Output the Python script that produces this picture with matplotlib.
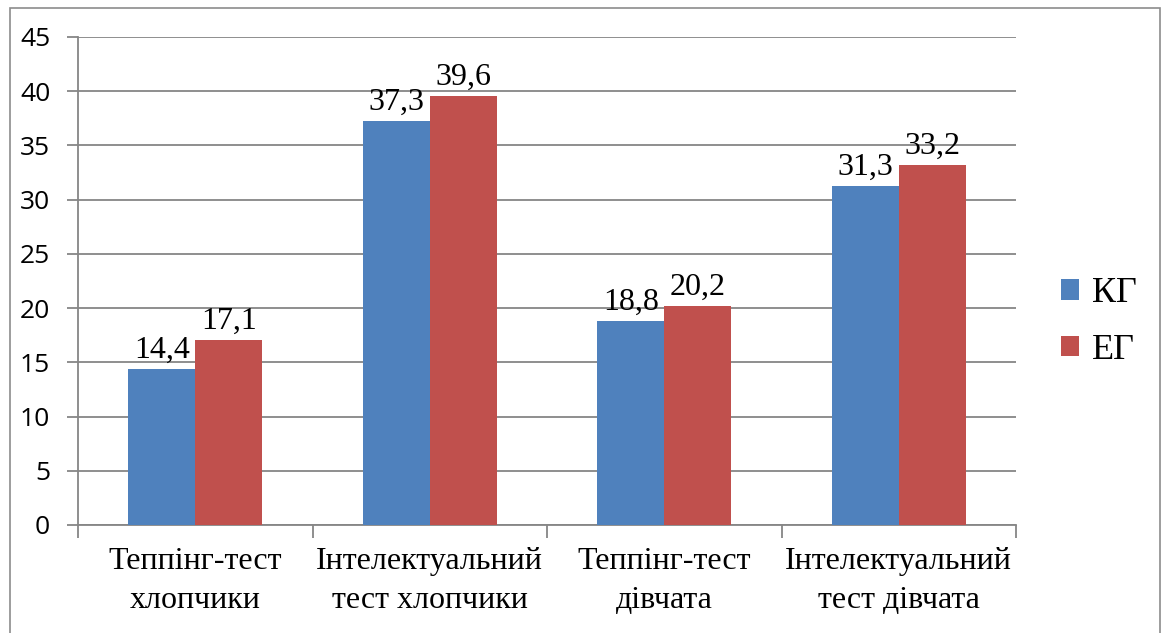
import numpy as np
import matplotlib
matplotlib.use("Agg")
from matplotlib import pyplot as plt
from matplotlib.patches import Rectangle

categories = ["Теппінг-тест\nхлопчики", "Інтелектуальний\nтест хлопчики",
              "Теппінг-тест\nдівчата", "Інтелектуальний\nтест дівчата"]
kg = [14.4, 37.3, 18.8, 31.3]
eg = [17.1, 39.6, 20.2, 33.2]
series_names = ["КГ", "ЕГ"]

BLUE = "#4F81BD"
RED = "#C0504D"
GRID = "#868686"
SERIF = ["Liberation Serif", "DejaVu Serif"]


def fmt(v):
    return f"{v:.1f}".replace(".", ",")


def main():
    fig = plt.figure(figsize=(11.65, 6.33), dpi=100)
    # outer chart frame
    fig.patches.append(Rectangle((10 / 1165, -0.05), 1150 / 1165, 1.05 - 8 / 633,
                                 transform=fig.transFigure, fill=False,
                                 edgecolor="#8c8c8c", linewidth=1.2))

    ax = fig.add_axes([78 / 1165, 108 / 633, 938 / 1165, 488 / 633])
    x = np.arange(len(categories))
    w = 0.286

    b1 = ax.bar(x - w / 2, kg, w, color=BLUE, label=series_names[0], zorder=3)
    b2 = ax.bar(x + w / 2, eg, w, color=RED, label=series_names[1], zorder=3)

    for bars, vals in ((b1, kg), (b2, eg)):
        for rect, v in zip(bars, vals):
            ax.annotate(fmt(v), (rect.get_x() + rect.get_width() / 2, v),
                        xytext=(0, 3), textcoords="offset points",
                        ha="center", va="bottom", family=SERIF, fontsize=23)

    ax.set_xlim(-0.5, 3.5)
    ax.set_ylim(0, 45)
    ax.set_yticks(np.arange(0, 46, 5))
    ax.yaxis.grid(True, color=GRID, linewidth=1.3, zorder=0)

    ax.set_xticks(np.arange(-0.5, 4, 1))
    ax.set_xticklabels([])
    ax.set_xticks(x, minor=True)
    ax.set_xticklabels(categories, minor=True, family=SERIF, fontsize=23,
                       linespacing=1.45)
    ax.tick_params(axis="x", which="minor", length=0, pad=16)
    ax.tick_params(axis="x", which="major", length=9, color=GRID, width=1.3)
    ax.tick_params(axis="y", length=8, color=GRID, width=1.3, pad=12,
                   labelsize=19, labelfontfamily="Open Sans")

    for s in ("top", "right"):
        ax.spines[s].set_visible(False)
    for s in ("left", "bottom"):
        ax.spines[s].set_color(GRID)
        ax.spines[s].set_linewidth(1.3)

    fig.legend(handles=[b1, b2], loc="center left",
               bbox_to_anchor=(1061 / 1165, (633 - 322) / 633),
               frameon=False, prop={"family": SERIF, "size": 26},
               borderpad=0, borderaxespad=0,
               handlelength=0.5, handleheight=0.5, handletextpad=0.35,
               labelspacing=0.65)

    fig.savefig("out.png", dpi=100)


if __name__ == "__main__":
    main()
